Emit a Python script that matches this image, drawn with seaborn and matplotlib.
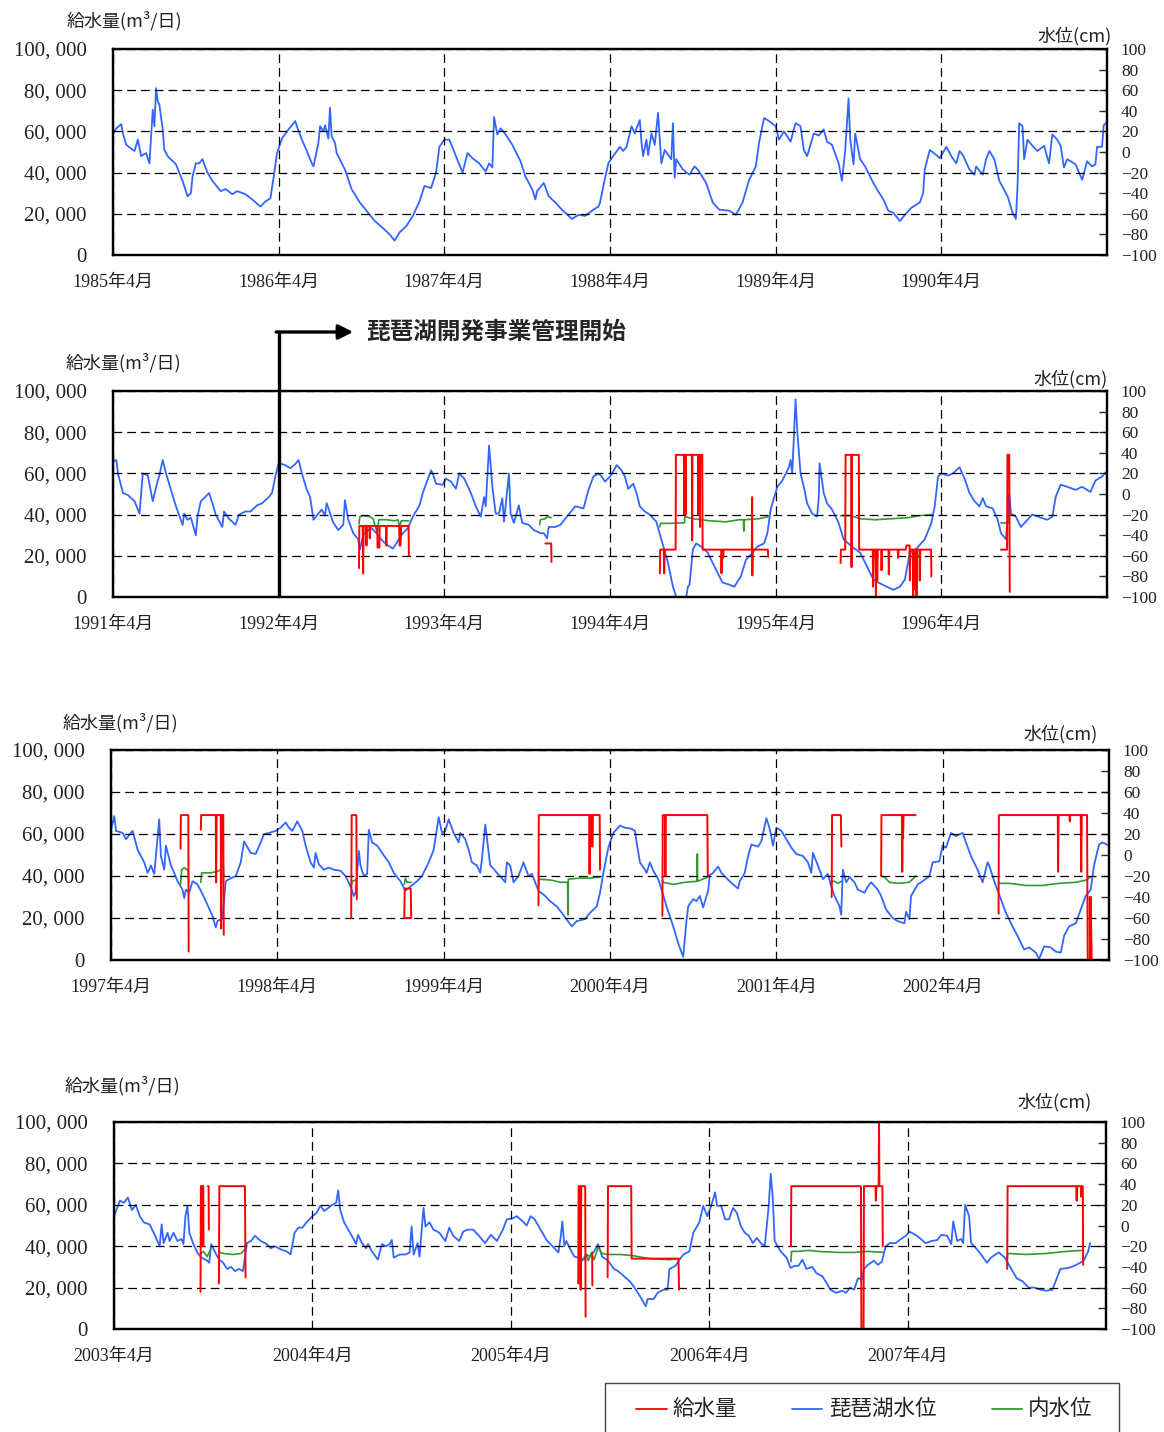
import pandas as pd
import matplotlib
matplotlib.use("Agg")
import matplotlib.pyplot as plt
import seaborn as sns
from matplotlib.ticker import FuncFormatter
from matplotlib.patches import Rectangle
from matplotlib.lines import Line2D

sns.set_style("white")
plt.rcParams["font.family"] = ["Liberation Serif", "Noto Sans CJK JP"]

RED = "#ff0000"
BLUE = "#3366ff"
GREEN = "#339933"
JP = ["Noto Sans CJK JP", "DejaVu Sans"]

# ==========================
# Data
# time = decimal year, lake / inner level in cm, supply in m3/day
# ==========================

p1_lake = [(1985.25,17),(1985.27,23),(1985.30,27),(1985.31,18),(1985.33,7),(1985.37,2),(1985.38,1),(1985.40,12),(1985.42,-4),(1985.45,-1),(1985.47,-11),(1985.49,41),(1985.50,25),(1985.51,62),(1985.52,49),(1985.53,46),(1985.55,22),(1985.56,2),(1985.58,-4),(1985.63,-12),(1985.67,-28),(1985.70,-43),(1985.72,-40),(1985.73,-24),(1985.75,-11),(1985.77,-11),(1985.79,-7),(1985.82,-20),(1985.85,-28),(1985.90,-38),(1985.93,-36),(1985.97,-41),(1986.00,-38),(1986.05,-41),(1986.09,-46),(1986.14,-53),(1986.17,-48),(1986.20,-45),(1986.22,-24),(1986.24,-1),(1986.27,13),(1986.30,20),(1986.35,30),(1986.36,25),(1986.39,12),(1986.42,1),(1986.45,-11),(1986.46,-14),(1986.49,9),(1986.50,25),(1986.52,20),(1986.53,26),(1986.55,13),(1986.56,43),(1986.57,15),(1986.59,9),(1986.60,-1),(1986.65,-17),(1986.69,-36),(1986.74,-49),(1986.79,-59),(1986.83,-67),(1986.88,-74),(1986.92,-80),(1986.95,-86),(1986.98,-78),(1987.02,-72),(1987.06,-62),(1987.10,-48),(1987.13,-33),(1987.17,-35),(1987.20,-20),(1987.22,5),(1987.25,12),(1987.28,12),(1987.32,-4),(1987.36,-20),(1987.39,-1),(1987.42,-6),(1987.46,-11),(1987.50,-19),(1987.52,-11),(1987.54,-15),(1987.55,34),(1987.57,17),(1987.59,23),(1987.62,17),(1987.66,7),(1987.71,-9),(1987.74,-24),(1987.78,-36),(1987.80,-46),(1987.81,-38),(1987.85,-30),(1987.88,-43),(1987.92,-49),(1987.96,-56),(1988.02,-65),(1988.06,-61),(1988.10,-62),(1988.15,-56),(1988.18,-53),(1988.19,-49),(1988.21,-33),(1988.24,-11),(1988.26,-6),(1988.31,5),(1988.33,1),(1988.35,5),(1988.38,25),(1988.40,18),(1988.41,23),(1988.43,31),(1988.44,9),(1988.45,-4),(1988.47,12),(1988.48,-3),(1988.50,18),(1988.52,7),(1988.54,38),(1988.56,-11),(1988.58,2),(1988.62,-7),(1988.63,28),(1988.64,-25),(1988.65,-7),(1988.69,-17),(1988.73,-22),(1988.76,-14),(1988.78,-17),(1988.83,-30),(1988.87,-49),(1988.91,-56),(1988.97,-57),(1989.01,-61),(1989.05,-49),(1989.09,-27),(1989.13,-14),(1989.15,9),(1989.18,33),(1989.21,30),(1989.25,25),(1989.27,12),(1989.30,20),(1989.34,10),(1989.37,28),(1989.40,25),(1989.42,2),(1989.44,-4),(1989.48,18),(1989.51,16),(1989.54,22),(1989.56,10),(1989.59,7),(1989.63,-11),(1989.65,-28),(1989.67,2),(1989.69,52),(1989.70,12),(1989.72,-12),(1989.73,18),(1989.76,-7),(1989.79,-14),(1989.83,-27),(1989.86,-36),(1989.90,-46),(1989.93,-57),(1989.96,-59),(1990.00,-67),(1990.03,-61),(1990.07,-54),(1990.12,-49),(1990.14,-40),(1990.15,-17),(1990.18,2),(1990.22,-3),(1990.24,-6),(1990.28,5),(1990.31,-4),(1990.34,-11),(1990.36,1),(1990.38,-3),(1990.42,-17),(1990.45,-22),(1990.46,-14),(1990.50,-22),(1990.52,-7),(1990.54,1),(1990.57,-7),(1990.60,-28),(1990.65,-43),(1990.68,-59),(1990.70,-65),(1990.71,-33),(1990.72,28),(1990.74,25),(1990.75,-7),(1990.77,12),(1990.80,6),(1990.83,1),(1990.87,6),(1990.90,-11),(1990.92,17),(1990.95,12),(1990.97,6),(1990.99,-15),(1991.01,-7),(1991.06,-12),(1991.10,-27),(1991.13,-9),(1991.16,-14),(1991.18,-12),(1991.19,5),(1991.22,5),(1991.23,26),(1991.25,29)]

p2_lake = [(1991.25,31),(1991.27,33),(1991.28,20),(1991.31,1),(1991.34,-1),(1991.38,-7),(1991.41,-19),(1991.43,20),(1991.46,18),(1991.48,1),(1991.49,-7),(1991.52,13),(1991.53,18),(1991.55,33),(1991.57,20),(1991.60,4),(1991.63,-12),(1991.67,-30),(1991.68,-19),(1991.70,-25),(1991.72,-23),(1991.75,-40),(1991.76,-22),(1991.78,-7),(1991.80,-4),(1991.83,1),(1991.85,-9),(1991.87,-20),(1991.91,-32),(1991.92,-17),(1991.95,-24),(1991.99,-30),(1992.01,-20),(1992.05,-17),(1992.08,-17),(1992.12,-11),(1992.15,-9),(1992.19,-3),(1992.21,1),(1992.23,17),(1992.25,30),(1992.29,28),(1992.32,25),(1992.35,29),(1992.37,33),(1992.39,20),(1992.42,4),(1992.44,-3),(1992.46,-25),(1992.49,-19),(1992.51,-15),(1992.53,-21),(1992.54,-9),(1992.58,-28),(1992.61,-35),(1992.64,-30),(1992.65,-6),(1992.67,-25),(1992.70,-38),(1992.73,-44),(1992.74,-54),(1992.76,-40),(1992.79,-35),(1992.81,-33),(1992.84,-38),(1992.88,-46),(1992.90,-49),(1992.94,-53),(1992.96,-48),(1992.99,-40),(1993.03,-33),(1993.06,-22),(1993.10,-11),(1993.12,1),(1993.14,10),(1993.17,23),(1993.18,20),(1993.20,10),(1993.24,9),(1993.26,15),(1993.29,12),(1993.32,5),(1993.34,20),(1993.37,15),(1993.41,1),(1993.44,-12),(1993.47,-22),(1993.49,-3),(1993.50,-12),(1993.52,47),(1993.54,7),(1993.56,-19),(1993.58,-19),(1993.60,-4),(1993.61,-27),(1993.64,20),(1993.65,-19),(1993.67,-28),(1993.70,-11),(1993.72,-28),(1993.76,-30),(1993.79,-35),(1993.83,-38),(1993.85,-38),(1993.87,-43),(1993.88,-32),(1993.92,-32),(1993.95,-30),(1993.99,-22),(1994.04,-12),(1994.09,-14),(1994.12,4),(1994.15,17),(1994.18,20),(1994.20,17),(1994.22,12),(1994.25,17),(1994.27,22),(1994.29,28),(1994.32,23),(1994.34,17),(1994.36,5),(1994.39,10),(1994.41,1),(1994.43,-12),(1994.46,-17),(1994.49,-20),(1994.53,-27),(1994.56,-44),(1994.60,-67),(1994.63,-90),(1994.65,-100),(1994.69,-103),(1994.71,-100),(1994.72,-90),(1994.73,-88),(1994.75,-54),(1994.77,-48),(1994.80,-51),(1994.84,-57),(1994.87,-67),(1994.91,-80),(1994.93,-86),(1994.97,-88),(1995.00,-90),(1995.04,-80),(1995.07,-64),(1995.11,-57),(1995.14,-51),(1995.18,-48),(1995.20,-38),(1995.22,-15),(1995.26,7),(1995.29,13),(1995.33,26),(1995.34,33),(1995.35,20),(1995.37,92),(1995.38,62),(1995.40,20),(1995.42,7),(1995.44,-9),(1995.47,-19),(1995.50,-22),(1995.51,-4),(1995.515,30),(1995.54,1),(1995.56,-9),(1995.59,-15),(1995.63,-28),(1995.66,-44),(1995.71,-51),(1995.76,-57),(1995.80,-70),(1995.84,-83),(1995.87,-86),(1995.92,-90),(1995.96,-93),(1996.00,-90),(1996.03,-83),(1996.06,-57),(1996.10,-53),(1996.15,-44),(1996.19,-28),(1996.21,-12),(1996.23,17),(1996.25,20),(1996.29,18),(1996.32,20),(1996.36,26),(1996.39,15),(1996.42,1),(1996.45,-7),(1996.48,-12),(1996.50,-4),(1996.52,-12),(1996.56,-14),(1996.59,-25),(1996.61,-38),(1996.64,-44),(1996.66,1),(1996.67,-19),(1996.70,-22),(1996.73,-32),(1996.77,-25),(1996.80,-20),(1996.85,-23),(1996.89,-25),(1996.92,-22),(1996.94,-3),(1996.97,9),(1997.01,7),(1997.06,4),(1997.10,7),(1997.15,2),(1997.18,13),(1997.22,17),(1997.25,22)]

p2_supply = [
    [(1992.735,14000),(1992.737,34500),(1992.757,34500),(1992.76,11500),(1992.763,34500),(1992.777,34500),(1992.78,25000),(1992.783,34500),(1992.797,34500),(1992.80,28500),(1992.803,34500),(1992.845,34500),(1992.847,24000),(1992.858,24000),(1992.86,34500),(1992.897,34500),(1992.90,25000),(1992.903,34500),(1992.977,34500),(1992.98,25000),(1992.985,25000),(1992.99,34500),(1993.034,34500),(1993.036,20000)],
    [(1993.86,26000),(1993.895,26000),(1993.897,17000)],
    [(1994.551,11500),(1994.553,23000),(1994.575,23000),(1994.577,11500),(1994.58,23000),(1994.646,23000),(1994.648,69000),(1994.696,69000),(1994.698,40000),(1994.70,69000),(1994.704,69000),(1994.706,40000),(1994.708,69000),(1994.744,69000),(1994.746,27500),(1994.748,69000),(1994.781,69000),(1994.783,40000),(1994.785,69000),(1994.79,69000),(1994.793,34000),(1994.795,69000),(1994.807,69000),(1994.809,23000),(1994.921,23000),(1994.923,11500),(1994.926,23000),(1994.931,23000),(1994.933,19000),(1994.936,23000),(1995.106,23000),(1995.108,48500),(1995.109,10500),(1995.111,23000),(1995.203,23000),(1995.205,19500)],
    [(1995.642,16500),(1995.644,23000),(1995.67,23000),(1995.672,69000),(1995.706,69000),(1995.708,14500),(1995.71,69000),(1995.752,69000),(1995.754,23000),(1995.836,23000),(1995.838,5000),(1995.841,23000),(1995.853,23000),(1995.855,0),(1995.858,23000),(1995.861,23000),(1995.863,8000),(1995.866,23000),(1995.887,23000),(1995.889,13000),(1995.892,23000),(1995.931,23000),(1995.933,11000),(1995.936,23000),(1995.987,23000),(1995.989,19000),(1995.992,23000),(1996.035,23000),(1996.04,25000),(1996.058,25000),(1996.06,8000),(1996.063,23000),(1996.078,23000),(1996.08,0),(1996.083,23000),(1996.088,23000),(1996.09,4000),(1996.093,23000),(1996.098,23000),(1996.10,0),(1996.103,23000),(1996.118,23000),(1996.12,8000),(1996.123,23000),(1996.188,23000),(1996.19,10000)],
    [(1996.609,23000),(1996.647,23000),(1996.649,69000),(1996.66,69000),(1996.663,2500)],
]

p2_inner = [
    [(1992.735,-29),(1992.74,-22),(1992.76,-21),(1992.80,-22),(1992.82,-24),(1992.83,-30),(1992.845,-37),(1992.855,-25),(1992.90,-25),(1992.95,-26),(1992.97,-25),(1992.98,-32),(1992.99,-26),(1993.036,-26)],
    [(1993.825,-30),(1993.83,-25),(1993.86,-24),(1993.87,-22),(1993.895,-23)],
    [(1994.551,-32),(1994.555,-28.5),(1994.62,-28.5),(1994.70,-28),(1994.702,-22),(1994.75,-24),(1994.85,-26),(1994.95,-27),(1995.03,-25),(1995.055,-25),(1995.058,-36),(1995.061,-25),(1995.15,-24),(1995.205,-22)],
    [(1995.642,-21),(1995.70,-21),(1995.76,-24),(1995.85,-25),(1995.95,-24),(1996.05,-23),(1996.12,-21),(1996.19,-20)],
    [(1996.609,-28),(1996.655,-28),(1996.663,-14)],
]

p3_lake = [(1997.25,24),(1997.27,37),(1997.28,23),(1997.32,21),(1997.34,15),(1997.38,23),(1997.39,17),(1997.41,5),(1997.45,-7),(1997.47,-17),(1997.49,-10),(1997.51,-18),(1997.54,34),(1997.55,-1),(1997.57,-14),(1997.58,9),(1997.61,-10),(1997.63,-17),(1997.65,-25),(1997.68,-33),(1997.69,-41),(1997.70,-33),(1997.72,-36),(1997.74,-25),(1997.77,-28),(1997.79,-34),(1997.82,-44),(1997.86,-58),(1997.88,-69),(1997.89,-63),(1997.92,-60),(1997.94,-25),(1997.96,-23),(1998.00,-20),(1998.03,-7),(1998.05,13),(1998.09,2),(1998.12,1),(1998.15,12),(1998.17,20),(1998.20,21),(1998.24,23),(1998.27,26),(1998.30,31),(1998.32,26),(1998.34,23),(1998.37,32),(1998.40,23),(1998.42,9),(1998.45,-7),(1998.47,-12),(1998.48,2),(1998.50,-9),(1998.53,-14),(1998.56,-12),(1998.59,-14),(1998.63,-15),(1998.66,-20),(1998.69,-30),(1998.71,-39),(1998.72,-36),(1998.74,4),(1998.75,-10),(1998.77,-20),(1998.79,-18),(1998.80,24),(1998.82,12),(1998.85,9),(1998.88,2),(1998.92,-7),(1998.95,-17),(1998.99,-25),(1999.02,-34),(1999.05,-30),(1999.09,-25),(1999.12,-20),(1999.16,-7),(1999.19,5),(1999.22,36),(1999.24,21),(1999.26,23),(1999.28,34),(1999.31,21),(1999.34,12),(1999.35,21),(1999.38,15),(1999.40,5),(1999.42,-7),(1999.45,-10),(1999.47,-17),(1999.48,-4),(1999.50,29),(1999.53,-10),(1999.55,-13),(1999.57,-17),(1999.60,-22),(1999.62,-26),(1999.63,-7),(1999.65,-10),(1999.67,-26),(1999.70,-20),(1999.73,-7),(1999.76,-20),(1999.78,-18),(1999.80,-26),(1999.82,-34),(1999.86,-39),(1999.89,-44),(1999.93,-49),(1999.96,-55),(2000.02,-68),(2000.05,-63),(2000.10,-61),(2000.13,-55),(2000.17,-49),(2000.19,-36),(2000.21,-17),(2000.24,7),(2000.27,21),(2000.31,28),(2000.34,26),(2000.38,25),(2000.40,23),(2000.41,12),(2000.43,-7),(2000.46,-14),(2000.47,-17),(2000.49,-7),(2000.51,-15),(2000.54,-23),(2000.56,-33),(2000.59,-49),(2000.63,-68),(2000.66,-84),(2000.69,-97),(2000.71,-62),(2000.72,-49),(2000.75,-42),(2000.77,-44),(2000.79,-39),(2000.81,-50),(2000.84,-34),(2000.85,-19),(2000.87,-17),(2000.90,-11),(2000.92,-17),(2000.95,-22),(2000.99,-28),(2001.02,-32),(2001.03,-25),(2001.06,-17),(2001.08,-1),(2001.10,10),(2001.14,8),(2001.16,13),(2001.19,35),(2001.21,25),(2001.23,9),(2001.25,26),(2001.28,23),(2001.31,15),(2001.34,7),(2001.37,1),(2001.41,-1),(2001.44,-7),(2001.46,-17),(2001.47,2),(2001.50,-10),(2001.53,-23),(2001.56,-18),(2001.58,-30),(2001.60,-39),(2001.63,-49),(2001.64,-57),(2001.65,-14),(2001.67,-26),(2001.69,-21),(2001.72,-26),(2001.74,-33),(2001.78,-36),(2001.80,-30),(2001.82,-26),(2001.86,-33),(2001.88,-39),(2001.91,-52),(2001.95,-60),(2001.98,-63),(2002.02,-65),(2002.03,-54),(2002.05,-61),(2002.06,-39),(2002.10,-28),(2002.13,-25),(2002.17,-20),(2002.19,-7),(2002.23,-6),(2002.25,9),(2002.27,7),(2002.30,21),(2002.33,18),(2002.37,21),(2002.39,12),(2002.42,-1),(2002.46,-14),(2002.49,-26),(2002.52,-7),(2002.53,-10),(2002.56,-25),(2002.60,-42),(2002.63,-55),(2002.67,-68),(2002.70,-77),(2002.74,-90),(2002.77,-88),(2002.81,-93),(2002.83,-99),(2002.86,-87),(2002.90,-88),(2002.93,-92),(2002.96,-93),(2002.98,-77),(2003.01,-68),(2003.05,-65),(2003.08,-52),(2003.11,-39),(2003.14,-33),(2003.16,-10),(2003.19,10),(2003.21,12),(2003.25,9)]

p3_supply = [
    [(1997.668,53000),(1997.670,69000),(1997.715,69000),(1997.717,4000)],
    [(1997.79,62000),(1997.792,69000),(1997.88,69000),(1997.882,37000),(1997.885,69000),(1997.91,69000),(1997.912,15000),(1997.915,69000),(1997.925,69000),(1997.928,12000)],
    [(1998.694,20000),(1998.697,69000),(1998.725,69000),(1998.728,29000)],
    [(1999.013,20000),(1999.016,34000),(1999.052,34000),(1999.055,20000),(1999.015,20000)],
    [(1999.82,26000),(1999.822,69000),(2000.125,69000),(2000.127,41000),(2000.13,69000),(2000.142,69000),(2000.144,54000),(2000.147,69000),(2000.188,69000),(2000.19,43000)],
    [(2000.565,21000),(2000.567,69000),(2000.58,69000),(2000.583,40000),(2000.586,69000),(2000.835,69000),(2000.838,40000)],
    [(2001.583,30000),(2001.585,69000),(2001.638,69000),(2001.641,54000)],
    [(2001.88,40000),(2001.882,69000),(2002.005,69000),(2002.007,42000),(2002.01,69000),(2002.012,58000),(2002.015,69000),(2002.088,69000)],
    [(2002.586,22000),(2002.588,69000),(2002.942,69000),(2002.944,42000),(2002.947,69000),(2003.012,69000),(2003.014,66000),(2003.017,69000),(2003.08,69000),(2003.083,42000),(2003.086,69000),(2003.118,69000),(2003.122,0)],
    [(2003.133,30000),(2003.135,0),(2003.14,30000),(2003.146,0)],
]

p3_inner = [
    [(1997.668,-28),(1997.675,-14),(1997.69,-12),(1997.715,-15),(1997.717,-26)],
    [(1997.79,-26),(1997.795,-17),(1997.85,-17),(1997.90,-15),(1997.925,-11),(1997.928,-20)],
    [(1998.694,-30),(1998.70,-25),(1998.72,-24),(1998.733,-21)],
    [(1999.013,-28),(1999.02,-22),(1999.03,-26),(1999.055,-26)],
    [(1999.82,-30),(1999.825,-23),(1999.90,-24),(1999.95,-26),(1999.995,-26),(1999.997,-57),(2000.00,-23),(2000.07,-22),(2000.13,-22),(2000.19,-21)],
    [(2000.565,-24),(2000.57,-26),(2000.63,-28),(2000.70,-26),(2000.773,-25),(2000.775,1),(2000.777,-25),(2000.838,-21)],
    [(2001.583,-25),(2001.60,-25),(2001.62,-27),(2001.641,-25)],
    [(2001.88,-20),(2001.90,-21),(2001.93,-26),(2001.98,-27),(2002.05,-26),(2002.088,-20)],
    [(2002.586,-27),(2002.65,-27),(2002.75,-29),(2002.85,-29),(2002.95,-27),(2003.05,-26),(2003.11,-24),(2003.14,-21)],
]

p4_lake = [(2003.25,9),(2003.27,19),(2003.28,24),(2003.30,22),(2003.32,27),(2003.34,15),(2003.36,20),(2003.38,9),(2003.40,3),(2003.43,1),(2003.45,-7),(2003.48,-20),(2003.49,1),(2003.50,-17),(2003.52,-7),(2003.53,-15),(2003.55,-7),(2003.57,-15),(2003.59,-13),(2003.60,-18),(2003.61,9),(2003.62,19),(2003.63,-7),(2003.65,-18),(2003.67,-26),(2003.69,-31),(2003.72,-34),(2003.73,-36),(2003.74,-18),(2003.76,-26),(2003.78,-33),(2003.80,-36),(2003.82,-42),(2003.84,-40),(2003.86,-44),(2003.88,-42),(2003.90,-44),(2003.92,-17),(2003.94,-15),(2003.96,-10),(2003.99,-15),(2004.02,-18),(2004.04,-22),(2004.06,-20),(2004.09,-23),(2004.12,-25),(2004.14,-28),(2004.16,-7),(2004.18,-2),(2004.20,-2),(2004.22,3),(2004.25,9),(2004.27,12),(2004.29,19),(2004.31,14),(2004.33,17),(2004.35,20),(2004.37,22),(2004.38,34),(2004.39,15),(2004.41,3),(2004.44,-7),(2004.46,-14),(2004.47,-18),(2004.48,-9),(2004.50,-17),(2004.52,-22),(2004.53,-18),(2004.55,-25),(2004.58,-33),(2004.60,-18),(2004.62,-20),(2004.64,-18),(2004.65,-14),(2004.66,-31),(2004.69,-28),(2004.72,-28),(2004.74,-26),(2004.75,-1),(2004.76,-28),(2004.78,-17),(2004.79,-30),(2004.81,17),(2004.82,-1),(2004.84,3),(2004.86,-4),(2004.89,-7),(2004.92,-15),(2004.94,-2),(2004.96,-10),(2004.99,-15),(2005.01,-6),(2005.03,-4),(2005.06,-4),(2005.09,-10),(2005.12,-17),(2005.15,-9),(2005.18,-15),(2005.21,-4),(2005.23,6),(2005.26,7),(2005.28,9),(2005.31,4),(2005.33,0),(2005.35,9),(2005.37,6),(2005.40,-4),(2005.43,-14),(2005.46,-20),(2005.49,-26),(2005.50,-13),(2005.51,4),(2005.52,-20),(2005.53,-15),(2005.55,-23),(2005.57,-30),(2005.59,-31),(2005.61,-34),(2005.63,-28),(2005.65,-30),(2005.67,-25),(2005.69,-18),(2005.71,-30),(2005.74,-34),(2005.77,-42),(2005.79,-44),(2005.82,-49),(2005.85,-54),(2005.87,-59),(2005.90,-68),(2005.93,-78),(2005.94,-71),(2005.97,-71),(2005.99,-65),(2006.02,-62),(2006.04,-62),(2006.05,-42),(2006.08,-39),(2006.10,-33),(2006.12,-28),(2006.15,-25),(2006.17,-7),(2006.20,3),(2006.22,19),(2006.24,9),(2006.26,19),(2006.28,32),(2006.29,19),(2006.31,19),(2006.33,6),(2006.35,6),(2006.37,17),(2006.39,12),(2006.41,-1),(2006.43,-7),(2006.45,-10),(2006.47,-17),(2006.49,-12),(2006.51,-17),(2006.53,-20),(2006.55,19),(2006.56,50),(2006.57,28),(2006.58,-15),(2006.61,-25),(2006.64,-31),(2006.66,-41),(2006.68,-39),(2006.70,-39),(2006.72,-33),(2006.74,-42),(2006.77,-40),(2006.79,-46),(2006.82,-49),(2006.84,-55),(2006.86,-62),(2006.89,-65),(2006.92,-63),(2006.94,-65),(2006.96,-60),(2006.98,-62),(2007.00,-51),(2007.02,-52),(2007.03,-42),(2007.05,-38),(2007.08,-34),(2007.10,-38),(2007.12,-35),(2007.14,-20),(2007.16,-17),(2007.19,-17),(2007.21,-14),(2007.24,-10),(2007.26,-6),(2007.29,-9),(2007.31,-12),(2007.34,-17),(2007.37,-15),(2007.40,-14),(2007.42,-9),(2007.45,-10),(2007.47,-18),(2007.48,4),(2007.50,-15),(2007.52,-13),(2007.53,-17),(2007.54,20),(2007.56,9),(2007.57,-17),(2007.60,-23),(2007.62,-28),(2007.65,-36),(2007.67,-31),(2007.71,-26),(2007.74,-31),(2007.77,-41),(2007.80,-51),(2007.83,-54),(2007.86,-60),(2007.89,-60),(2007.92,-62),(2007.95,-63),(2007.98,-62),(2008.00,-52),(2008.02,-42),(2008.06,-41),(2008.09,-39),(2008.12,-36),(2008.14,-33),(2008.16,-25),(2008.17,-17)]

p4_supply = [
    [(2003.686,18000),(2003.688,69000),(2003.692,69000),(2003.694,40000),(2003.697,69000),(2003.70,69000),(2003.701,40000)],
    [(2003.724,69000),(2003.727,69000),(2003.728,48000)],
    [(2003.779,22000),(2003.781,69000),(2003.91,69000),(2003.913,25000)],
    [(2005.59,22000),(2005.592,69000),(2005.60,69000),(2005.602,19000),(2005.605,69000),(2005.625,69000),(2005.627,6000)],
    [(2005.66,37000),(2005.661,21000)],
    [(2005.738,25000),(2005.74,69000),(2005.857,69000),(2005.859,34000),(2006.095,34000),(2006.098,19000)],
    [(2006.662,40000),(2006.664,69000),(2007.015,69000),(2007.017,0),(2007.028,0),(2007.03,69000),(2007.088,69000),(2007.09,62000),(2007.093,69000),(2007.104,69000),(2007.106,100000),(2007.108,69000),(2007.123,69000),(2007.125,40000)],
    [(2007.752,29000),(2007.754,69000),(2008.10,69000),(2008.102,62000),(2008.105,69000),(2008.123,69000),(2008.125,64000),(2008.128,69000),(2008.133,69000),(2008.135,31000)],
]

p4_inner = [
    [(2003.688,-27),(2003.70,-25),(2003.72,-30),(2003.737,-23)],
    [(2003.785,-26),(2003.80,-27),(2003.85,-28),(2003.89,-27),(2003.91,-23)],
    [(2005.592,-31),(2005.62,-33),(2005.63,-28),(2005.64,-34),(2005.655,-27),(2005.67,-33),(2005.69,-21),(2005.71,-27),(2005.74,-28),(2005.80,-28),(2005.86,-29),(2005.95,-32),(2006.05,-33),(2006.098,-32)],
    [(2006.662,-35),(2006.665,-25),(2006.70,-25),(2006.75,-24),(2006.80,-25),(2006.90,-26),(2006.98,-26),(2007.05,-25),(2007.129,-26)],
    [(2007.752,-33),(2007.755,-27),(2007.85,-28),(2007.95,-27),(2008.05,-25),(2008.135,-24)],
]

legend_labels = ["給水量", "琵琶湖水位", "内水位"]
annotation_text = "琵琶湖開発事業管理開始"

# ==========================
# Figure
# ==========================

W, H = 1164, 1432
fig = plt.figure(figsize=(W / 100, H / 100), dpi=100)


def px_box(left, top, right, bottom):
    return [left / W, 1 - bottom / H, (right - left) / W, (bottom - top) / H]


def seg_frame(segs):
    rows = [(i, t, v) for i, seg in enumerate(segs) for t, v in seg]
    return pd.DataFrame(rows, columns=["seg", "t", "v"])


def draw_panel(box, start, years, lake, supply, inner):
    ax = fig.add_axes(box)
    ax2 = ax.twinx()

    lake_df = pd.DataFrame(lake, columns=["t", "v"])
    sns.lineplot(data=lake_df, x="t", y="v", sort=False, estimator=None,
                 color=BLUE, lw=1.3, ax=ax2)
    if inner:
        sns.lineplot(data=seg_frame(inner), x="t", y="v", units="seg",
                     estimator=None, sort=False, color=GREEN, lw=1.2, ax=ax2)
    if supply:
        sns.lineplot(data=seg_frame(supply), x="t", y="v", units="seg",
                     estimator=None, sort=False, color=RED, lw=1.4, ax=ax)

    # red on top of the level lines
    ax.set_zorder(ax2.get_zorder() + 1)
    ax.patch.set_visible(False)

    ax.set_xlim(start, start + years)
    ax.set_ylim(0, 100000)
    ax2.set_ylim(-100, 100)

    ax.set_xticks([start + k for k in range(years)])
    ax.xaxis.set_major_formatter(FuncFormatter(lambda x, p: f"{int(x)}年4月"))
    ax.set_yticks(range(0, 100001, 20000))
    ax.yaxis.set_major_formatter(FuncFormatter(lambda v, p: f"{int(v):,}".replace(",", ", ")))
    ax2.set_yticks(range(-100, 101, 20))

    ax.grid(True, color="black", linestyle=(0, (7, 4)), lw=0.9)
    ax2.grid(False)

    ax.tick_params(axis="x", length=0, pad=13.5, labelsize=13, labelcolor="#222")
    ax.tick_params(axis="y", length=0, pad=19, labelsize=15, labelcolor="#222")
    ax2.tick_params(axis="y", direction="in", length=6, width=1, pad=10,
                    labelsize=12.5, labelcolor="#222", right=True)

    ax.set_xlabel("")
    ax.set_ylabel("")
    ax2.set_xlabel("")
    ax2.set_ylabel("")
    for a in (ax, ax2):
        for s in a.spines.values():
            s.set_color("black")
            s.set_linewidth(1.6)
    return ax, ax2


def unit_labels(left_x, left_y, right_x, right_y):
    fig.text(left_x / W, 1 - left_y / H, "給水量(m³/日)", family=JP,
             fontsize=13, va="center", ha="left", color="#222")
    fig.text(right_x / W, 1 - right_y / H, "水位(cm)", family=JP,
             fontsize=13, va="center", ha="right", color="#222")


ax1, _ = draw_panel(px_box(113, 49, 1107, 255), 1985.25, 6, p1_lake, None, None)
unit_labels(67, 21, 1112, 36)

ax2p, _ = draw_panel(px_box(113, 391, 1107, 597), 1991.25, 6, p2_lake, p2_supply, p2_inner)
unit_labels(66, 363, 1108, 379)

ax3, _ = draw_panel(px_box(111, 750, 1109, 960), 1997.25, 6, p3_lake, p3_supply, p3_inner)
unit_labels(63, 723, 1098, 734)

ax4, _ = draw_panel(px_box(114, 1122, 1106, 1329), 2003.25, 5, p4_lake, p4_supply, p4_inner)
unit_labels(65, 1086, 1092, 1102)

# ==========================
# Annotation: start of management (April 1992)
# ==========================

tr = ax2p.get_xaxis_transform()
arrow_y = (597 - 332) / (597 - 391)
ax2p.plot([1992.25, 1992.25], [0, arrow_y], transform=tr, color="black",
          lw=2.4, clip_on=False, zorder=10, solid_capstyle="butt")
ax2p.annotate("", xy=(1992.70, arrow_y), xytext=(1992.235, arrow_y),
              xycoords=tr, textcoords=tr, annotation_clip=False,
              arrowprops=dict(arrowstyle="-|>", color="black", lw=2.4,
                              mutation_scale=22, shrinkA=0, shrinkB=0))
ax2p.text(1992.78, arrow_y, annotation_text, transform=tr, family=JP,
          fontsize=17, fontweight="bold", va="center", ha="left", clip_on=False)

# ==========================
# Legend box at the bottom
# ==========================

fig.add_artist(Rectangle((605 / W, 1 - 1445 / H), 514 / W, 62 / H,
                         transform=fig.transFigure, fill=False,
                         edgecolor="#444", lw=1))
leg_y = 1 - 1409 / H
for (x0, x1, xt), col, lab in zip([(636, 667, 672), (792, 822, 829), (992, 1022, 1028)],
                                  [RED, BLUE, GREEN], legend_labels):
    fig.add_artist(Line2D([x0 / W, x1 / W], [leg_y, leg_y], color=col, lw=1.3,
                          transform=fig.transFigure))
    fig.text(xt / W, leg_y, lab, family=JP, fontsize=15.5, va="center",
             ha="left", color="#222")

fig.savefig("out.png", dpi=100)
